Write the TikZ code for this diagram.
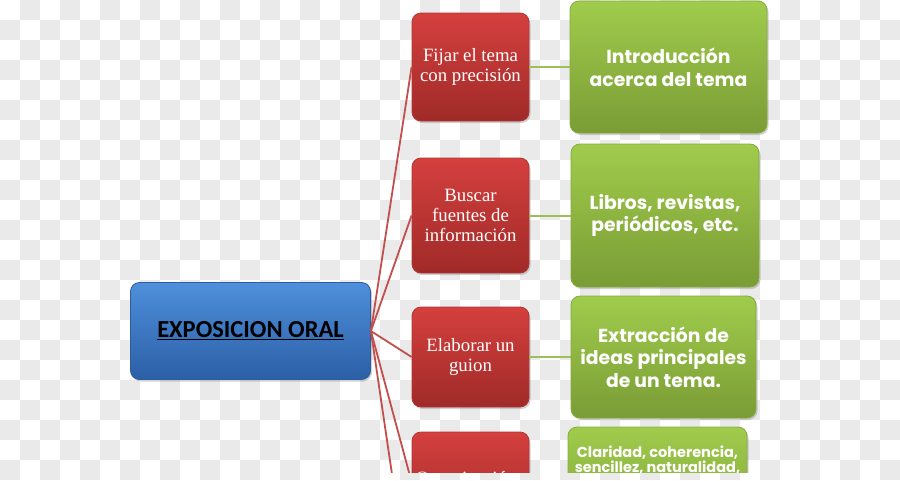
\documentclass[tikz,border=0pt]{standalone}
\usepackage{fontspec}
\setmainfont{Liberation Serif}
\newfontfamily\gfont{Poppins}
\newfontfamily\bfont{Carlito}
\usetikzlibrary{shadows}
\definecolor{chk}{HTML}{EAEAEA}
\definecolor{btop}{HTML}{4F8FDB}
\definecolor{bbot}{HTML}{2B5FA6}
\definecolor{bdraw}{HTML}{2A5C9E}
\definecolor{rtop}{HTML}{D4403E}
\definecolor{rbot}{HTML}{A02A28}
\definecolor{rdraw}{HTML}{B03634}
\definecolor{gtop}{HTML}{A0CC4C}
\definecolor{gbot}{HTML}{7A9C35}
\definecolor{gdraw}{HTML}{86AA3E}
\definecolor{hubln}{HTML}{C24F4D}
\definecolor{grnln}{HTML}{9BC05A}
\tikzset{
  boxbase/.style={rounded corners=9pt, line width=0.8pt, inner sep=0pt, align=center,
    drop shadow={opacity=0.35, shadow xshift=1.5pt, shadow yshift=-2pt}},
  hubbox/.style={boxbase, draw=bdraw, top color=btop, bottom color=bbot,
    font=\bfont\bfseries\fontsize{24.5}{28}\selectfont, text=black},
  redbox/.style={boxbase, draw=rdraw, top color=rtop, bottom color=rbot, minimum width=117,
    text=white, font=\fontsize{18.8}{20}\selectfont},
  grnbox/.style={boxbase, draw=gdraw, top color=gtop, bottom color=gbot,
    text=white, font=\gfont\bfseries\fontsize{18.8}{22.5}\selectfont},
  hubline/.style={draw=hubln, line width=1.8pt},
  grnline/.style={draw=grnln, line width=2pt},
  chkcell/.style={fill=chk, draw=none}
}
\begin{document}
\begin{tikzpicture}[x=1pt,y=-1pt]
\useasboundingbox (0,0) rectangle (900,480);
\fill[white] (0,0) rectangle (900,480);
\foreach \i in {0,...,44}{
  \foreach \j in {0,...,11}{
    \path[chkcell] ({20*\i},{40*\j+20*mod(\i+1,2)}) rectangle ++(20,20);
  }
}
\begin{scope}
\clip (0,0) rectangle (900,472);
\node[hubbox, minimum width=240, minimum height=97] (hub) at (250.5,331) {\underline{EXPOSICION ORAL}};
\node[redbox, minimum height=108] (r1) at (470.5,67) {\raisebox{-2pt}{\begin{tabular}{@{}c@{}}Fijar el tema\\con precisión\end{tabular}}};
\node[redbox, minimum height=115] (r2) at (470.5,215.5) {Buscar\\fuentes de\\información};
\node[redbox, minimum height=100] (r3) at (470.5,357) {\raisebox{-3pt}{\begin{tabular}{@{}c@{}}Elaborar un\\guion\end{tabular}}};
\node[redbox, minimum height=100] (r4) at (470.5,482) {};
\node[text=white, font=\fontsize{18.8}{20}\selectfont, anchor=base] (r4t) at (466,484) {Organización};
\node[grnbox, minimum width=197, minimum height=132] (g1) at (668.5,67) {Introducción\\acerca del tema};
\node[grnbox, minimum width=188, minimum height=143] (g2) at (665,215.5) {Libros, revistas,\\periódicos, etc.};
\node[grnbox, minimum width=185, minimum height=122] (g3) at (663.5,357) {Extracción de\\ideas principales\\de un tema.};
\node[grnbox, minimum width=179, minimum height=120] (g4) at (657.5,487) {};
\node[text=white, font=\gfont\bfseries\fontsize{14.5}{14.5}\selectfont, align=center] (g4t) at (657.5,460) {Claridad, coherencia,\\sencillez, naturalidad,};
\coordinate (off5) at (412,610);
\draw[hubline] (hub.east) -- (r1.west);
\draw[hubline] (hub.east) -- (r2.west);
\draw[hubline] (hub.east) -- (r3.west);
\draw[hubline] (hub.east) -- (r4.west);
\draw[hubline] (hub.east) -- (off5);
\draw[grnline] (r1.east) -- (g1.west);
\draw[grnline] (r2.east) -- (g2.west);
\draw[grnline] (r3.east) -- (g3.west);
\end{scope}
\end{tikzpicture}
\end{document}
